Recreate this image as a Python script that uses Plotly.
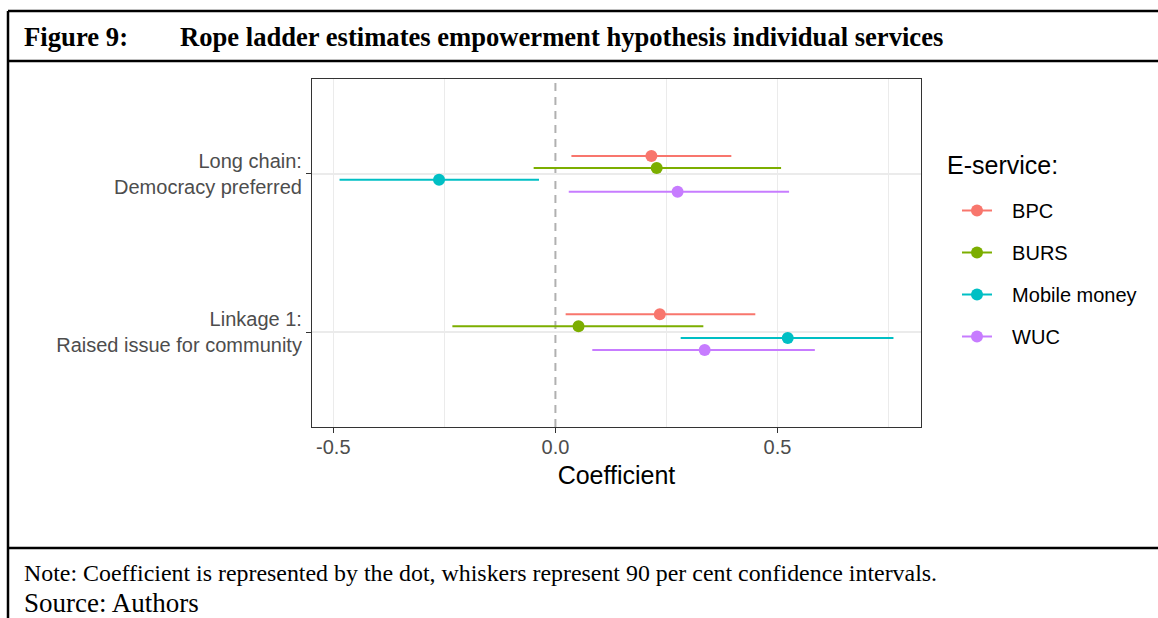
import plotly.graph_objects as go

# data
services = ["BPC", "BURS", "Mobile money", "WUC"]
colors = ["#F8766D", "#7CAE00", "#00BFC4", "#C77CFF"]
outcome_labels = ["Linkage 1:<br>Raised issue for community",
                  "Long chain:<br>Democracy preferred"]
outcome_pos = [1, 2]

est_long = [0.216, 0.228, -0.262, 0.275]
lo_long = [0.036, -0.049, -0.486, 0.030]
hi_long = [0.396, 0.508, -0.037, 0.526]

est_link = [0.235, 0.052, 0.523, 0.336]
lo_link = [0.023, -0.232, 0.282, 0.083]
hi_link = [0.450, 0.333, 0.761, 0.584]

x_ticks = [-0.5, 0.0, 0.5]
x_grid = [-0.5, -0.25, 0.25, 0.5, 0.75]  # 0 is covered by the dashed line
dodge = [0.1125, 0.0375, -0.0375, -0.1125]

# page geometry (pixels) -> paper coords
W, H = 1158, 618
L, R, T, B = 312, 921, 79, 427


def fx(px):
    return (px - L) / (R - L)


def fy(py):
    return (B - py) / (B - T)


fig = go.Figure()

pad = "\u00a0\u00a0\u2009"  # little gap between key and label, like ggplot
for i, name in enumerate(services):
    xs = [est_long[i], None, est_link[i]]
    ys = [outcome_pos[1] + dodge[i], None, outcome_pos[0] + dodge[i]]
    plus = [hi_long[i] - est_long[i], 0, hi_link[i] - est_link[i]]
    minus = [est_long[i] - lo_long[i], 0, est_link[i] - lo_link[i]]
    fig.add_trace(go.Scatter(
        x=xs, y=ys, name=pad + name, mode="lines+markers",
        connectgaps=False, legendgroup=name,
        line=dict(color=colors[i], width=2),
        marker=dict(color=colors[i], size=12),
        error_x=dict(type="data", array=plus, arrayminus=minus,
                     color=colors[i], thickness=2, width=0),
    ))

# dashed zero line
fig.add_shape(type="line", x0=0, x1=0, xref="x", yref="paper", y0=0, y1=1,
              line=dict(color="#B0B0B0", width=2, dash="8px,6px"), layer="below")

# frame around the figure
frame = dict(color="black", width=2.5)
for y in [11, 61, 548]:
    fig.add_shape(type="line", xref="paper", yref="paper",
                  x0=fx(8), x1=fx(W + 2), y0=fy(y), y1=fy(y), line=frame)
fig.add_shape(type="line", xref="paper", yref="paper",
              x0=fx(8), x1=fx(8), y0=fy(11), y1=fy(H + 2), line=frame)

serif = "Liberation Serif, Times New Roman, serif"
ann = [
    ("<b>Figure 9:</b>", 22, 37, 26.7),
    ("<b>Rope ladder estimates empowerment hypothesis individual services</b>", 178, 37, 26.6),
    ("Note: Coefficient is represented by the dot, whiskers represent 90 per cent confidence intervals.", 22, 573, 23.9),
    ("Source: Authors", 22, 603, 27),
]
for text, px, py, size in ann:
    fig.add_annotation(text=text, xref="paper", yref="paper", x=fx(px), y=fy(py),
                       xanchor="left", yanchor="middle", showarrow=False,
                       font=dict(family=serif, size=size, color="black"))

# legend title as its own label so it can sit left of the keys
fig.add_annotation(text="E-service:", xref="paper", yref="paper", x=fx(945), y=fy(165),
                   xanchor="left", yanchor="middle", showarrow=False,
                   font=dict(size=25, color="black"))

fig.update_layout(
    width=W, height=H,
    margin=dict(l=L, r=W - R, t=T, b=H - B, pad=0),
    paper_bgcolor="white", plot_bgcolor="white",
    font=dict(family="Liberation Sans, Arial, sans-serif", color="#4D4D4D"),
    showlegend=True,
    legend=dict(
        font=dict(size=20, color="black"),
        x=fx(957), y=fy(191), xanchor="left", yanchor="top",
        tracegroupgap=13, bgcolor="rgba(0,0,0,0)",
    ),
    xaxis=dict(
        range=[-0.548, 0.823], tickvals=x_ticks, ticktext=["-0.5", "0.0", "0.5"],
        tickfont=dict(size=20, color="#4D4D4D"),
        ticks="outside", ticklen=5, tickcolor="#333333", tickwidth=1,
        ticklabelstandoff=-3,
        showgrid=False,
        minor=dict(tickvals=x_grid, showgrid=True, gridcolor="#EBEBEB",
                   gridwidth=1.3, ticks=""),
        showline=True, mirror=True, linecolor="#333333", linewidth=1.2,
        zeroline=False,
        title=dict(text="Coefficient", font=dict(size=25, color="black"), standoff=9),
    ),
    yaxis=dict(
        range=[0.4, 2.6], tickvals=outcome_pos, ticktext=outcome_labels,
        tickfont=dict(size=20, color="#4D4D4D"),
        ticks="outside", ticklen=5, tickcolor="#333333", tickwidth=1,
        showgrid=True, gridcolor="#EBEBEB", gridwidth=2,
        showline=True, mirror=True, linecolor="#333333", linewidth=1.2,
        zeroline=False,
    ),
)

fig.write_html("out.html", config={"displayModeBar": False},
               post_script="document.body.style.margin='0';")
